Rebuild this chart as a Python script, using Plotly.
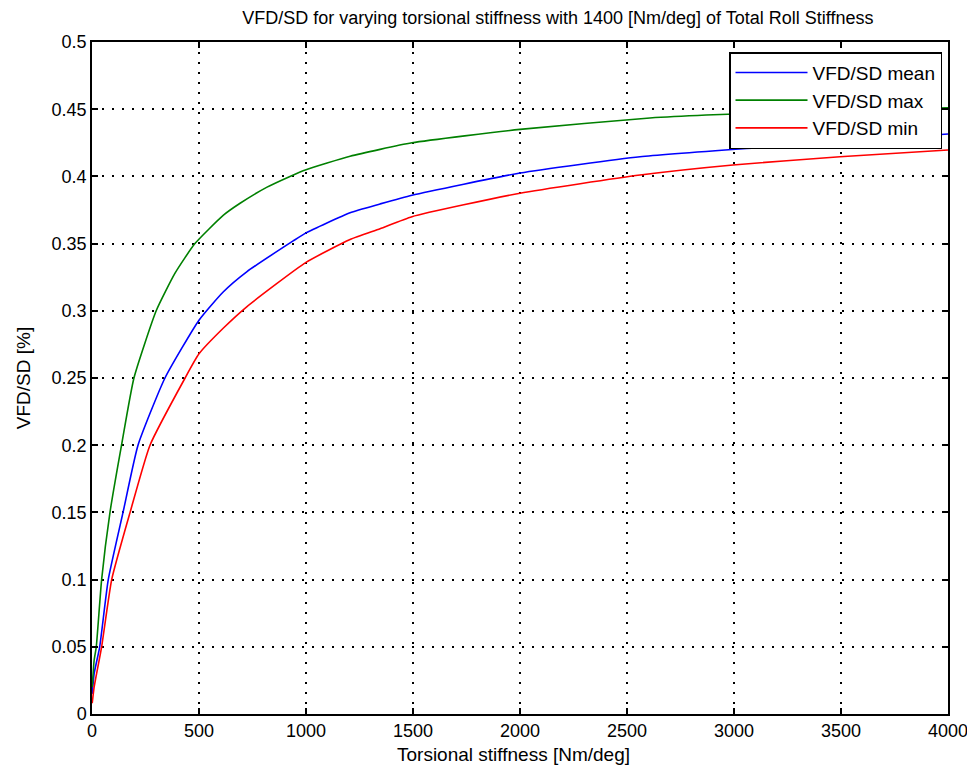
import plotly.graph_objects as go

# Data
x_max = [1, 10, 20, 45, 84, 138, 196, 300, 388, 481, 613, 692, 818, 925, 1000, 1206, 1495, 2000, 2607, 2870, 3500, 4000]
y_max = [0.02, 0.04, 0.05, 0.1, 0.15, 0.2, 0.25, 0.3, 0.328, 0.35, 0.371, 0.380, 0.392, 0.4, 0.405, 0.415, 0.425, 0.435, 0.4435, 0.4457, 0.449, 0.451]

x_mean = [1, 10, 36, 76, 145, 215, 341, 500, 613, 723, 940, 1000, 1206, 1346, 1495, 2000, 2561, 3168, 3500, 4000]
y_mean = [0.015, 0.03, 0.05, 0.1, 0.15, 0.2, 0.25, 0.293, 0.314, 0.329, 0.352, 0.358, 0.373, 0.3795, 0.386, 0.4025, 0.4146, 0.422, 0.426, 0.4315]

x_min = [1, 10, 45, 92, 178, 271, 435, 500, 613, 723, 1000, 1206, 1346, 1495, 2000, 2561, 2995, 3495, 4000]
y_min = [0.008, 0.02, 0.05, 0.1, 0.15, 0.2, 0.25, 0.268, 0.287, 0.303, 0.336, 0.353, 0.361, 0.370, 0.3875, 0.401, 0.4085, 0.4146, 0.4196]

x_ticks = [0, 500, 1000, 1500, 2000, 2500, 3000, 3500, 4000]
y_ticks = [0, 0.05, 0.1, 0.15, 0.2, 0.25, 0.3, 0.35, 0.4, 0.45, 0.5]

font_family = "Liberation Sans, Arial, sans-serif"

fig = go.Figure()
fig.add_trace(go.Scatter(x=x_mean, y=y_mean, mode="lines", name="VFD/SD mean",
                         line=dict(color="rgb(0,0,255)", width=1.6, shape="spline", smoothing=0.5)))
fig.add_trace(go.Scatter(x=x_max, y=y_max, mode="lines", name="VFD/SD max",
                         line=dict(color="rgb(0,128,0)", width=1.6, shape="spline", smoothing=0.5)))
fig.add_trace(go.Scatter(x=x_min, y=y_min, mode="lines", name="VFD/SD min",
                         line=dict(color="rgb(255,0,0)", width=1.6, shape="spline", smoothing=0.5)))

axis_common = dict(
    showgrid=True, gridcolor="black", gridwidth=1.5, griddash="2px,8px",
    showline=True, linecolor="black", linewidth=1.5, mirror="ticks",
    ticks="inside", ticklen=6, tickcolor="black", tickwidth=1.5,
    zeroline=False, tickfont=dict(size=18, color="black", family=font_family),
)

fig.update_layout(
    width=975, height=776,
    margin=dict(l=84, r=35, t=34, b=70),
    paper_bgcolor="white", plot_bgcolor="white",
    title=dict(text="VFD/SD for varying torsional stiffness with 1400 [Nm/deg] of Total Roll Stiffness",
               x=0.564, xanchor="center", y=0.988, yanchor="middle",
               font=dict(size=18, color="black", family=font_family)),
    font=dict(family=font_family, color="black"),
    xaxis=dict(range=[0, 4000], tickvals=x_ticks, ticktext=[str(v) for v in x_ticks],
               **axis_common),
    yaxis=dict(range=[0, 0.5], tickvals=y_ticks, ticktext=[("%g" % v) for v in y_ticks],
               title=dict(text="VFD/SD [%]", font=dict(size=19), standoff=16),
               **axis_common),
    legend=dict(x=0.993, y=0.985, xanchor="right", yanchor="top",
                bgcolor="white", bordercolor="black", borderwidth=1.5,
                font=dict(size=19, color="black", family=font_family),
                itemwidth=72, tracegroupgap=0),
    showlegend=True,
    annotations=[dict(text="Torsional stiffness [Nm/deg]", xref="paper", yref="paper",
                      x=0.492, y=0, yshift=-40, xanchor="center", yanchor="middle",
                      showarrow=False, font=dict(size=19, color="black", family=font_family))],
)

fig.write_html("out.html")
